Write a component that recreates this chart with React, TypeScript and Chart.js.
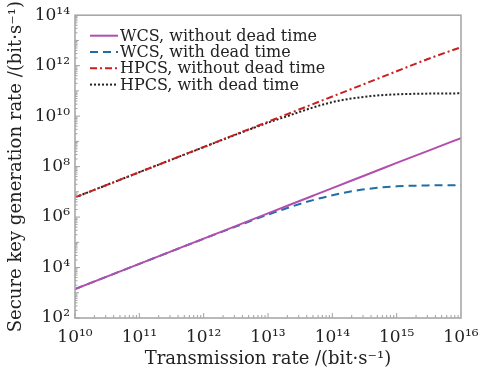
import React, { useEffect, useRef } from "react";
import { Chart, registerables } from "chart.js";
Chart.register(...registerables);

const xValues = [1e10, 1e11, 1e12, 3e12, 1e13, 2e13, 5e13, 1e14, 2e14, 5e14, 1e15, 3e15, 1e16];
const wcsNoDead = [1.4e3, 1.4e4, 1.4e5, 4.2e5, 1.4e6, 2.8e6, 7e6, 1.4e7, 2.8e7, 7e7, 1.4e8, 4.1e8, 1.35e9];
const wcsDead = [1.4e3, 1.4e4, 1.38e5, 4e5, 1.25e6, 2.3e6, 4.7e6, 7.3e6, 1.05e7, 1.45e7, 1.65e7, 1.8e7, 1.85e7];
const hpcsNoDead = [6e6, 6e7, 6e8, 1.8e9, 6e9, 1.2e10, 3e10, 6e10, 1.2e11, 3e11, 6e11, 1.8e12, 5.4e12];
const hpcsDead = [6e6, 6e7, 5.9e8, 1.75e9, 5.5e9, 1e10, 2.2e10, 3.6e10, 5e10, 6.6e10, 7.3e10, 7.8e10, 8e10];

const xTickLabels = ["10¹⁰", "10¹¹", "10¹²", "10¹³", "10¹⁴", "10¹⁵", "10¹⁶"];
const yTickLabels = ["10²", "10⁴", "10⁶", "10⁸", "10¹⁰", "10¹²", "10¹⁴"];
const xMajors = [1e10, 1e11, 1e12, 1e13, 1e14, 1e15, 1e16];
const yMajors = [1e2, 1e4, 1e6, 1e8, 1e10, 1e12, 1e14];
const seriesNames = [
  "WCS, without dead time",
  "WCS, with dead time",
  "HPCS, without dead time",
  "HPCS, with dead time",
];

const FONT = "'DejaVu Serif', serif";

const framePlugin = {
  id: "frame",
  afterDatasetsDraw(chart: any) {
    const { ctx, chartArea: a, scales } = chart;
    const xs = scales.x;
    const ys = scales.y;
    ctx.save();
    ctx.strokeStyle = "#a0a0a0";
    ctx.lineWidth = 1;
    for (let e = 10; e < 16; e++) {
      for (let k = 1; k < 10; k++) {
        const px = xs.getPixelForValue(k * Math.pow(10, e));
        const len = k === 1 ? 5 : 3;
        ctx.beginPath();
        ctx.moveTo(px, a.bottom);
        ctx.lineTo(px, a.bottom - len);
        ctx.stroke();
      }
    }
    for (let e = 2; e < 14; e++) {
      for (let k = 1; k < 10; k++) {
        const py = ys.getPixelForValue(k * Math.pow(10, e));
        const len = k === 1 ? (e % 2 === 0 ? 5 : 4) : 2.5;
        ctx.beginPath();
        ctx.moveTo(a.left, py);
        ctx.lineTo(a.left + len, py);
        ctx.stroke();
      }
    }
    ctx.lineWidth = 1.6;
    ctx.strokeStyle = "#a8a8a8";
    ctx.strokeRect(a.left, a.top, a.right - a.left, a.bottom - a.top);

    // legend
    const rowH = 16.3;
    const x0 = a.left + 15;
    const lineLen = 28;
    let y = a.top + 20.5;
    ctx.font = `16px ${FONT}`;
    ctx.textBaseline = "middle";
    chart.data.datasets.forEach((d: any) => {
      ctx.strokeStyle = d.borderColor;
      ctx.lineWidth = 2;
      ctx.setLineDash(d.borderDash || []);
      ctx.beginPath();
      ctx.moveTo(x0, y);
      ctx.lineTo(x0 + lineLen, y);
      ctx.stroke();
      ctx.setLineDash([]);
      ctx.fillStyle = "#222";
      ctx.fillText(d.label, x0 + lineLen + 2, y + 1);
      y += rowH;
    });
    ctx.restore();
  },
};

export default function App() {
  const ref = useRef<HTMLCanvasElement>(null);
  useEffect(() => {
    document.body.style.margin = "0";
    const mk = (v: number[]) => xValues.map((x, i) => ({ x, y: v[i] }));
    const common = { pointRadius: 0, borderWidth: 2, cubicInterpolationMode: "monotone" as const };
    const chart = new Chart(ref.current!, {
      type: "line",
      data: {
        datasets: [
          { label: seriesNames[0], data: mk(wcsNoDead), borderColor: "#b24fae", ...common },
          { label: seriesNames[1], data: mk(wcsDead), borderColor: "#1f6ea6", borderDash: [8, 5], ...common },
          { label: seriesNames[2], data: mk(hpcsNoDead), borderColor: "#c82020", borderDash: [7, 3, 2, 3], ...common },
          { label: seriesNames[3], data: mk(hpcsDead), borderColor: "#222222", borderDash: [2, 2], ...common },
        ],
      },
      options: {
        animation: false,
        responsive: false,
        maintainAspectRatio: false,
        layout: { padding: { top: 15, right: 0, left: 0, bottom: 0 } },
        plugins: {
          legend: { display: false },
          tooltip: { enabled: false },
        },
        scales: {
          x: {
            type: "logarithmic",
            min: 1e10,
            max: 1e16,
            afterBuildTicks: (s: any) => {
              s.ticks = xMajors.map((v) => ({ value: v }));
            },
            afterFit: (s: any) => {
              s.height = 60;
              s.paddingRight = 18;
              s.paddingLeft = 0;
            },
            ticks: {
              autoSkip: false,
              maxRotation: 0,
              padding: 9,
              color: "#222",
              font: { family: FONT, size: 17 },
              callback: (v: any) => {
                const i = xMajors.indexOf(Number(v));
                return i >= 0 ? xTickLabels[i] : "";
              },
            },
            grid: { display: false, drawTicks: false },
            border: { display: false },
            title: {
              display: true,
              text: "Transmission rate /(bit·s⁻¹)",
              color: "#222",
              font: { family: FONT, size: 18 },
              padding: { top: 0, bottom: 8 },
            },
          },
          y: {
            type: "logarithmic",
            min: 1e2,
            max: 1e14,
            afterBuildTicks: (s: any) => {
              s.ticks = yMajors.map((v) => ({ value: v }));
            },
            afterFit: (s: any) => {
              s.width = 75;
            },
            ticks: {
              autoSkip: false,
              padding: 5,
              color: "#222",
              font: { family: FONT, size: 17 },
              callback: (v: any) => {
                const i = yMajors.indexOf(Number(v));
                return i >= 0 ? yTickLabels[i] : "";
              },
            },
            grid: { display: false, drawTicks: false },
            border: { display: false },
            title: {
              display: true,
              text: "Secure key generation rate /(bit·s⁻¹)",
              color: "#222",
              font: { family: FONT, size: 18 },
              padding: { top: 6, bottom: 0 },
            },
          },
        },
      },
      plugins: [framePlugin],
    });
    return () => chart.destroy();
  }, []);
  return (
    <div style={{ position: "fixed", left: 0, top: 0, width: 479, height: 378 }}>
      <canvas ref={ref} width={479} height={378} style={{ width: 479, height: 378 }} />
    </div>
  );
}
